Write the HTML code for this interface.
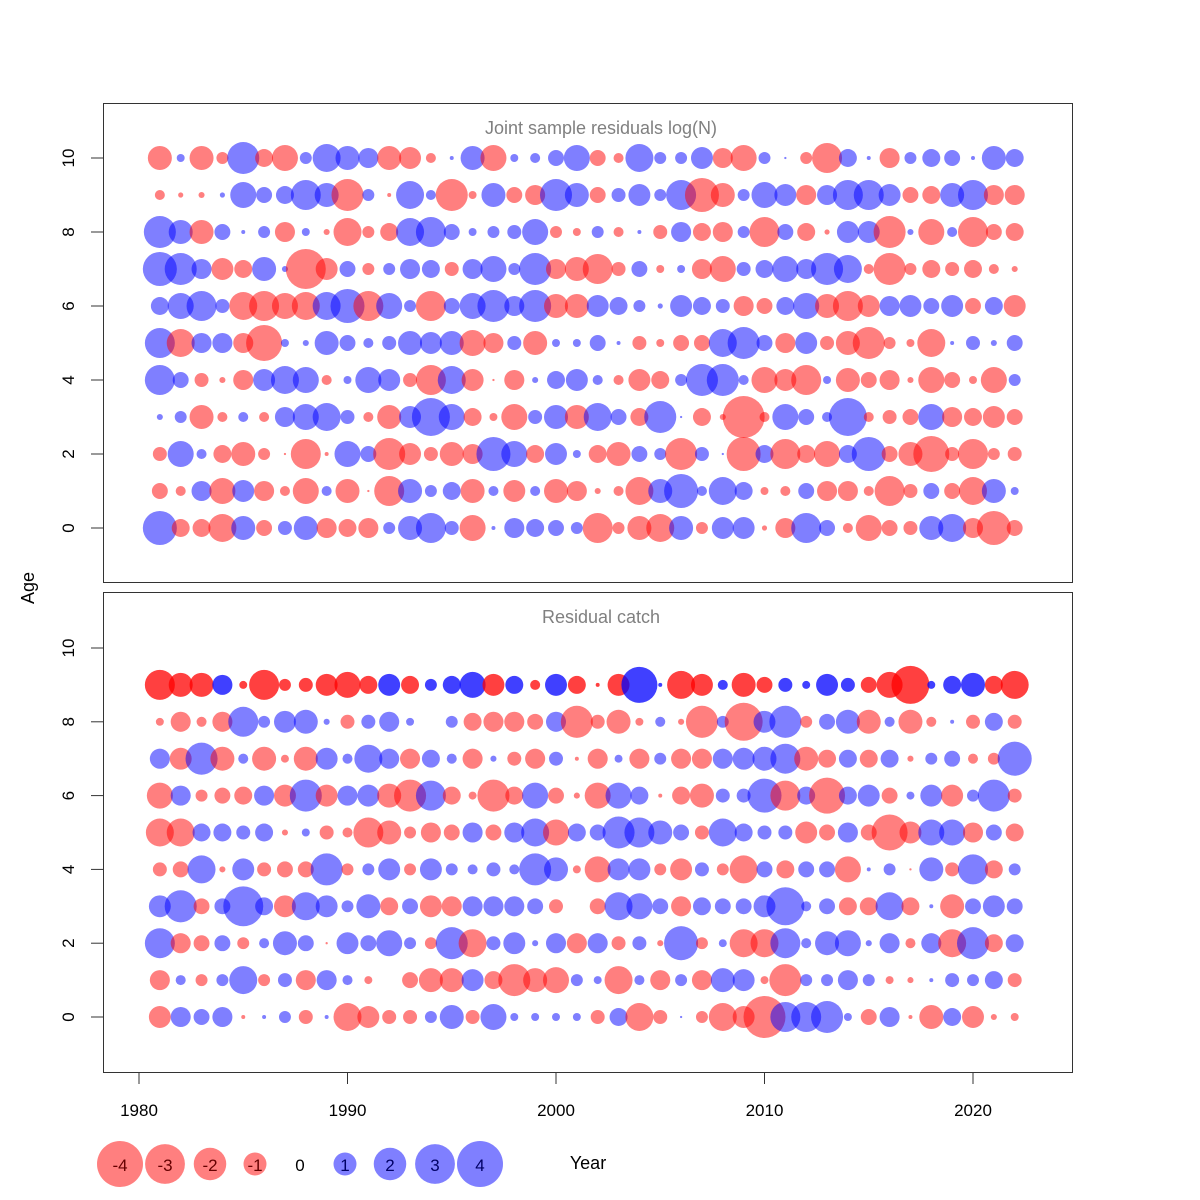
<!DOCTYPE html>
<html><head><meta charset="utf-8"><style>
html,body{margin:0;padding:0;background:#fff;}
svg{display:block;font-family:"Liberation Sans",Arial,sans-serif;}
</style></head><body>
<svg id="chart" width="1200" height="1200" viewBox="0 0 1200 1200" xmlns="http://www.w3.org/2000/svg">
<rect width="1200" height="1200" fill="#fff"/>
<g id="top"></g>
<g id="bot"></g>
<g id="axes"></g>
<g id="legend"></g>
</svg>
<script>
const years = [];
for (let y = 1981; y <= 2022; y++) years.push(y);
const xTicks = [1980, 1990, 2000, 2010, 2020];
const yTicks = [0, 2, 4, 6, 8, 10];
const legendValues = [-4, -3, -2, -1, 0, 1, 2, 3, 4];

const topAge0 = [2.19,-0.61,-0.61,-1.48,1.09,-0.48,0.37,1.09,-0.76,-0.61,-0.76,0.27,1.09,1.70,0.37,-1.28,0.03,0.76,0.61,0.48,0.27,-1.70,-0.27,-1.09,-1.48,1.09,-0.27,0.91,0.91,-0.05,-0.76,1.70,0.48,-0.19,-1.28,-0.48,-0.37,1.09,1.48,-0.76,-2.19,-0.48];
const topAge1 = [-0.48,-0.19,0.76,-1.28,0.91,-0.76,-0.19,-1.28,0.19,-1.09,-0.01,-1.70,1.09,0.27,0.61,-1.09,0.19,-0.91,0.19,-1.09,-0.76,-0.07,-0.19,-1.48,1.09,2.19,0.19,1.48,0.61,-0.12,-0.19,0.48,-0.76,-0.76,-0.19,-1.70,-0.37,0.48,-0.48,-1.48,1.09,0.12];
const topAge2 = [-0.37,1.28,0.19,-0.61,-1.09,-0.27,-0.01,-1.70,-0.03,1.28,0.48,-1.94,-0.91,-0.37,-1.09,-0.76,2.19,1.28,-0.61,0.91,0.12,-0.61,-1.09,0.48,0.27,-1.94,0.37,0.01,-2.19,0.61,-1.70,-0.61,-1.28,0.61,2.19,-0.48,-1.09,-2.45,-0.37,-1.70,-0.27,-0.37];
const topAge3 = [0.07,0.27,-1.09,-0.19,0.19,-0.19,0.76,1.28,1.48,0.37,-0.19,-1.09,0.91,2.73,1.28,-0.61,-0.12,-1.28,0.37,1.09,-1.09,1.48,0.48,-0.61,1.94,0.01,-0.61,-0.07,-3.33,-0.19,1.28,0.48,0.19,2.73,-0.19,-0.37,-0.48,1.28,-0.76,-0.61,-0.91,-0.48];
const topAge4 = [1.70,0.48,-0.37,-0.07,-0.76,0.91,1.48,1.28,-0.19,0.12,1.28,0.91,-0.37,-1.70,1.48,-0.91,-0.01,-0.76,0.07,0.61,0.91,0.19,-0.19,-0.91,-0.61,0.27,1.94,1.94,0.19,-1.28,-0.91,-1.70,0.12,-1.09,-0.48,-0.76,-0.07,-1.28,-0.48,-0.12,-1.28,0.27];
const topAge5 = [1.70,-1.48,0.76,0.76,-0.76,-2.45,0.12,0.07,1.09,0.48,0.19,0.37,1.09,0.91,1.09,-1.28,-0.76,0.37,-1.09,0.12,0.12,0.48,0.03,-0.37,-0.12,-0.48,-0.48,1.48,1.94,0.48,-0.76,0.91,-0.37,-1.09,-1.94,-0.27,-0.12,-1.48,0.03,0.37,0.07,0.48];
const topAge6 = [0.61,1.28,1.70,0.37,-1.48,-1.70,-1.28,-1.48,1.48,2.19,-1.70,1.28,0.27,-1.70,0.48,1.28,1.94,0.76,1.94,-1.09,-1.09,0.91,0.61,0.27,0.05,0.91,0.61,0.37,-0.76,-0.48,0.61,1.28,-1.09,-1.70,-0.91,0.76,0.91,0.48,0.91,-0.48,0.61,-0.91];
const topAge7 = [2.19,1.94,0.76,-0.91,-0.61,1.09,0.07,-3.02,-0.91,0.48,-0.27,0.27,0.76,0.61,-0.37,0.76,1.28,0.27,1.94,-0.76,-1.09,-1.70,-0.37,0.48,-0.12,0.12,-0.76,-1.28,0.37,0.61,1.28,0.76,1.94,1.48,-0.19,-1.94,-0.27,-0.61,-0.37,-0.61,-0.19,-0.07];
const topAge8 = [1.94,1.09,-1.09,0.48,0.03,0.27,-0.76,0.12,-0.07,-1.48,-0.27,-0.61,1.48,1.70,0.48,0.12,0.27,0.37,1.28,-0.27,-0.12,0.27,-0.19,0.03,-0.37,0.76,-0.61,-0.76,0.27,-1.70,0.48,-0.61,-0.05,0.91,0.91,-1.94,0.07,-1.28,0.19,-1.70,-0.48,-0.61];
const topAge9 = [-0.19,-0.05,-0.07,0.05,1.28,0.48,0.61,1.70,1.09,-1.94,0.27,-0.03,1.48,0.19,-1.94,-0.12,1.09,-0.48,-0.76,1.94,1.09,-0.48,0.37,0.91,0.27,1.70,-2.19,-1.09,0.27,1.28,0.91,-0.76,0.76,1.70,1.70,0.91,-0.48,-0.61,1.09,1.70,-0.76,-0.76];
const topAge10 = [-1.09,0.12,-1.09,-0.27,1.94,-0.61,-1.28,0.27,1.48,1.09,0.76,-1.09,-0.91,-0.19,0.03,1.09,-1.28,0.12,0.19,0.48,1.28,-0.48,-0.19,1.48,0.27,0.27,0.91,-0.76,-1.28,0.27,0.01,-0.27,-1.70,0.61,0.03,-0.76,0.27,0.61,0.48,0.03,1.09,0.61];

const botAge0 = [-0.91,0.76,0.48,0.76,-0.03,0.03,0.27,-0.37,0.03,-1.48,-0.91,-0.37,-0.37,0.27,1.09,-0.37,1.28,0.12,0.12,0.12,0.12,-0.37,0.61,-1.48,-0.37,0.01,-0.27,-1.48,-0.91,-3.33,1.70,1.70,1.94,0.12,-0.48,0.76,-0.03,-1.09,0.61,-0.91,-0.07,-0.12];
const botAge1 = [-0.76,0.19,-0.27,0.27,1.48,-0.27,0.37,-0.76,0.76,0.19,-0.12,0.00,-0.48,-1.09,-1.09,0.91,-0.61,-1.94,-1.09,-1.28,0.27,0.12,-1.48,0.19,-0.76,0.27,-0.76,1.09,0.91,-0.12,-1.94,0.27,0.27,0.76,0.27,-0.12,-0.07,0.03,0.37,0.27,0.61,-0.37];
const botAge2 = [1.70,-0.76,-0.48,0.48,-0.27,0.19,1.09,0.48,-0.01,0.91,0.48,1.28,0.27,-0.27,1.94,-1.48,0.37,0.91,0.07,0.76,-0.76,0.76,-0.37,0.37,-0.07,2.19,-0.27,0.12,-1.48,-1.48,1.70,0.19,1.09,1.28,0.07,0.76,-0.19,0.76,-1.48,1.94,-0.61,0.61];
const botAge3 = [0.91,1.94,-0.48,0.48,3.02,0.61,-0.91,1.48,0.91,0.27,1.09,-0.61,0.48,-0.91,-0.76,0.76,0.76,0.76,0.48,-0.37,0.00,-0.48,1.48,1.28,0.48,-0.76,0.61,0.48,0.48,0.91,2.73,0.19,0.48,-0.61,-0.61,1.48,-0.61,0.03,-1.09,0.48,0.91,0.48];
const botAge4 = [-0.37,-0.48,1.48,-0.07,0.91,-0.37,-0.48,-0.48,1.94,-0.27,0.27,0.91,-0.27,0.91,0.27,0.19,0.37,0.19,1.94,1.09,-0.12,-1.28,0.91,0.91,-0.27,-0.91,0.37,-0.27,-1.48,0.48,-0.61,0.48,0.48,-1.28,0.03,0.27,-0.01,1.09,-0.37,1.70,-0.61,0.27];
const botAge5 = [-1.48,-1.48,0.61,0.61,0.37,0.61,-0.07,0.12,-0.37,-0.19,-1.70,-1.09,-0.27,-0.76,-0.48,0.76,-0.48,0.76,1.48,-1.28,0.61,0.48,1.94,1.70,1.09,0.48,-0.37,1.48,0.61,0.37,0.37,-0.91,-0.48,0.76,-0.48,-2.45,-0.91,1.28,1.28,-0.76,0.48,-0.61];
const botAge6 = [-1.28,0.76,-0.27,-0.48,-0.61,0.76,-0.91,1.94,-0.91,0.76,0.91,-1.09,-1.94,1.70,-0.61,-0.12,-1.94,-0.61,1.28,-0.48,-0.07,-1.28,1.28,0.61,-0.03,-0.61,-1.09,0.37,0.37,2.19,-1.70,0.61,-2.45,0.61,0.91,-0.48,0.12,0.91,-0.91,0.27,1.94,-0.37];
const botAge7 = [0.76,-0.91,1.94,-1.09,0.19,-1.09,-0.12,-1.09,0.91,0.19,1.48,0.76,-0.76,0.61,0.19,-0.76,0.07,-0.37,-0.76,0.37,-0.03,-0.76,0.12,-0.76,0.27,-0.76,-0.76,0.76,0.91,1.09,1.70,-1.09,-0.61,0.61,-0.61,0.61,-0.07,0.27,0.48,-0.19,-0.27,2.19];
const botAge8 = [-0.12,-0.76,-0.19,-0.76,1.70,0.27,0.91,1.09,0.07,-0.37,0.37,0.76,0.12,0.00,0.27,-0.61,-0.76,-0.76,-0.48,0.76,-1.94,-0.37,-1.09,-0.12,0.19,-0.07,-1.94,0.27,-2.73,0.91,1.94,-0.27,0.48,1.09,-1.09,0.19,-1.09,-0.19,0.03,-0.37,0.61,-0.37];
const botAge9 = [-1.70,-1.09,-1.09,0.76,-0.12,-1.70,-0.27,-0.37,-0.91,-1.28,-0.61,0.91,-0.61,0.27,0.61,1.28,-0.91,0.61,-0.19,0.91,-0.61,-0.03,-0.91,2.45,0.03,-1.48,-0.91,0.19,-1.09,-0.48,0.37,0.12,0.91,0.37,-0.48,-1.28,-2.73,0.12,0.61,1.09,-0.61,-1.48];

const topRows = [topAge0,topAge1,topAge2,topAge3,topAge4,topAge5,topAge6,topAge7,topAge8,topAge9,topAge10];
const botRows = [botAge0,botAge1,botAge2,botAge3,botAge4,botAge5,botAge6,botAge7,botAge8,botAge9];

const NS = "http://www.w3.org/2000/svg";
function mk(tag, attrs, parent) {
  const e = document.createElementNS(NS, tag);
  for (const k in attrs) e.setAttribute(k, attrs[k]);
  parent.appendChild(e);
  return e;
}
const xScale = yr => 139 + (yr - 1980) * 20.85;
const topY = a => 528 - a * 37;
const botY = a => 1017 - a * 36.9;
const rScale = v => 11.5 * Math.sqrt(Math.abs(v));

function panel(g, rows, yS, box, title, strongTopAge) {
  const frame = mk('rect', {x:103.5, y:box[0]+0.5, width:969, height:box[1]-box[0], fill:'none', stroke:'#333', 'stroke-width':1}, g);
  
  
  const t = mk('text', {x:601, y:box[0]+31, 'text-anchor':'middle', 'font-size':18, fill:'#808080'}, g);
  t.textContent = title;
  
  
  rows.forEach((row, age) => {
    row.forEach((v, i) => {
      if (v === 0) return;
      const strong = age === strongTopAge;
      const c = mk('circle', {cx:xScale(years[i]), cy:yS(age), r:rScale(v),
        fill: v < 0 ? (strong ? 'rgba(255,0,0,0.75)' : 'rgba(255,0,0,0.5)') : (strong ? 'rgba(0,0,255,0.75)' : 'rgba(0,0,255,0.5)')}, g);
      
      
    });
  });
  yTicks.forEach(tv => {
    if (yS(tv) < box[0] + 20) return;
    const y = yS(tv);
    const tk = mk('line', {x1:91, x2:103, y1:y, y2:y, stroke:'#333'}, g);
    
    
    const lb = mk('text', {x:0, y:0, transform:`translate(74 ${y}) rotate(-90)`, 'text-anchor':'middle', 'font-size':17, fill:'#000'}, g);
    lb.textContent = tv;
    
    
  });
}
panel(document.getElementById('top'), topRows, topY, [103, 582], 'Joint sample residuals log(N)', -1);
panel(document.getElementById('bot'), botRows, botY, [592, 1072], 'Residual catch', 9);

const ax = document.getElementById('axes');
const xl = mk('line', {x1:xScale(1980), x2:xScale(2020), y1:1072.5, y2:1072.5, stroke:'#333'}, ax);


xTicks.forEach(tv => {
  const x = xScale(tv);
  const tk = mk('line', {x1:x, x2:x, y1:1072, y2:1084, stroke:'#333'}, ax);
  
  
  const lb = mk('text', {x:x, y:1116, 'text-anchor':'middle', 'font-size':17, fill:'#000'}, ax);
  lb.textContent = tv;
  
  
});
const at = mk('text', {x:0, y:0, transform:'translate(34 588) rotate(-90)', 'text-anchor':'middle', 'font-size':18, fill:'#000'}, ax);
at.textContent = 'Age';


const xt = mk('text', {x:588, y:1169, 'text-anchor':'middle', 'font-size':18, fill:'#000'}, ax);
xt.textContent = 'Year';



const lg = document.getElementById('legend');
legendValues.forEach((v, i) => {
  const cx = 120 + i * 45;
  if (v !== 0) {
    const c = mk('circle', {cx:cx, cy:1164, r:rScale(v), fill: v < 0 ? 'rgba(255,0,0,0.5)' : 'rgba(0,0,255,0.5)'}, lg);
    
    
  }
  const t = mk('text', {x:cx, y:1171, 'text-anchor':'middle', 'font-size':17, fill: v < 0 ? '#600' : (v > 0 ? '#006' : '#000')}, lg);
  t.textContent = v;
  
  
});
</script>
</body></html>
